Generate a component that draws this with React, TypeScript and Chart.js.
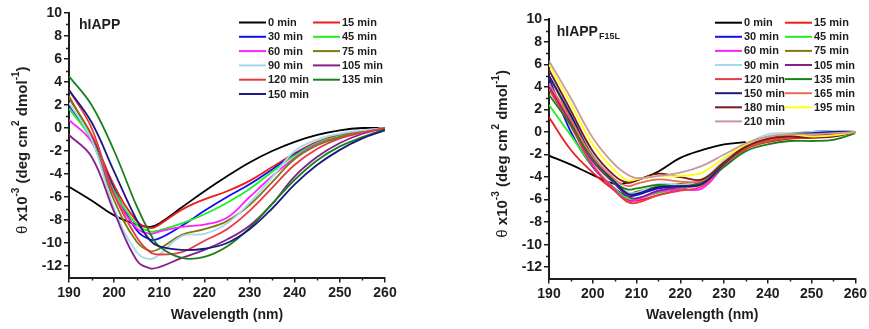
import React, { useEffect, useRef } from "react";
import { Chart, registerables } from "chart.js";

Chart.register(...registerables);

// ---------- data ----------
const WAVELENGTHS = [190, 195, 200, 205, 208, 210, 215, 220, 225, 230, 235, 240, 245, 250, 255, 260];
const X_TICKS = [190, 200, 210, 220, 230, 240, 250, 260];
const Y_TICKS = [-12, -10, -8, -6, -4, -2, 0, 2, 4, 6, 8, 10];

// hIAPP panel
const A_LABELS = ["0 min", "15 min", "30 min", "45 min", "60 min", "75 min", "90 min", "105 min", "120 min", "135 min", "150 min"];
const A_0 = [-5.1, -6.3, -7.6, -8.4, -8.6, -8.3, -6.9, -5.5, -4.2, -3.0, -2.0, -1.2, -0.6, -0.2, 0, 0];
const A_15 = [2.6, -0.6, -5.0, -8.1, -8.7, -8.4, -7.1, -6.2, -5.5, -4.6, -3.4, -2.2, -1.2, -0.6, -0.3, 0];
const A_30 = [2.0, -0.9, -5.3, -8.9, -9.7, -9.6, -8.5, -7.2, -6.0, -4.9, -3.6, -2.3, -1.3, -0.7, -0.3, 0];
const A_45 = [1.7, -1.0, -5.5, -8.4, -9.0, -8.9, -8.3, -7.5, -6.5, -5.3, -3.8, -2.4, -1.3, -0.7, -0.3, 0];
const A_60 = [0.7, -1.2, -5.8, -8.7, -9.2, -9.0, -8.6, -8.4, -7.8, -6.0, -4.2, -2.6, -1.4, -0.8, -0.3, -0.1];
const A_75 = [2.8, -0.9, -6.3, -9.9, -10.7, -10.5, -9.3, -8.8, -8.1, -6.7, -4.7, -2.7, -1.5, -0.8, -0.3, 0];
const A_90 = [2.2, -1.0, -7.0, -10.8, -11.4, -11.0, -9.4, -9.2, -8.3, -6.5, -4.3, -2.0, -1.0, -0.5, -0.2, 0];
const A_105 = [-0.6, -2.5, -7.3, -11.5, -12.2, -12.1, -11.3, -10.6, -9.7, -8.5, -6.6, -4.2, -2.5, -1.3, -0.5, 0];
const A_120 = [3.3, 0.0, -5.8, -9.5, -10.8, -11.0, -10.8, -9.8, -8.8, -7.2, -5.2, -3.2, -1.8, -0.9, -0.4, 0];
const A_135 = [4.5, 2.0, -2.0, -6.8, -9.2, -10.3, -11.3, -11.2, -10.3, -8.7, -6.6, -4.5, -2.8, -1.6, -0.8, -0.1];
const A_150 = [3.3, 0.5, -3.8, -8.0, -9.8, -10.3, -10.6, -10.5, -10.0, -8.8, -7.0, -4.9, -3.2, -1.9, -0.9, -0.2];
const A_VALUES = [A_0, A_15, A_30, A_45, A_60, A_75, A_90, A_105, A_120, A_135, A_150];

// hIAPP F15L panel
const B_LABELS = ["0 min", "15 min", "30 min", "45 min", "60 min", "75 min", "90 min", "105 min", "120 min", "135 min", "150 min", "165 min", "180 min", "195 min", "210 min"];
const B_0 = [-2.1, -2.9, -3.8, -4.6, -4.5, -4.3, -3.5, -2.3, -1.6, -1.1, -0.9, null, null, null, null, null];
const B_15 = [1.3, -1.6, -3.6, -5.2, -6.0, -6.1, -5.6, -5.1, -4.4, -2.8, -1.5, -0.9, -0.6, -0.5, -0.3, 0];
const B_30 = [4.8, 0.0, -3.1, -5.0, -5.7, -5.6, -5.0, -4.8, -4.3, -2.7, -1.4, -0.6, -0.2, 0, 0.1, 0];
const B_45 = [2.4, -0.3, -3.0, -5.0, -5.9, -5.9, -5.4, -5.0, -4.5, -2.8, -1.4, -0.8, -0.5, -0.4, -0.2, 0];
const B_60 = [4.2, 0.8, -2.9, -5.1, -6.2, -6.0, -5.3, -5.1, -5.0, -3.0, -1.3, -0.6, -0.3, -0.3, -0.2, 0];
const B_75 = [5.0, 1.3, -2.2, -4.5, -5.4, -5.3, -4.8, -4.6, -4.3, -2.6, -1.3, -0.6, -0.4, -0.4, -0.3, 0];
const B_90 = [5.5, 1.8, -1.9, -4.2, -5.3, -5.4, -4.6, -4.7, -4.2, -2.5, -1.1, -0.2, -0.1, 0, 0.1, 0];
const B_105 = [4.0, 0.8, -2.6, -4.6, -5.7, -5.9, -5.2, -4.9, -4.6, -2.8, -1.3, -0.6, -0.3, -0.2, -0.2, 0];
const B_120 = [3.8, 0.5, -3.0, -5.2, -6.2, -6.3, -5.6, -5.2, -4.8, -2.9, -1.5, -0.8, -0.5, -0.5, -0.3, 0];
const B_135 = [3.3, 0.6, -2.4, -4.5, -5.1, -5.0, -4.7, -4.8, -4.5, -3.1, -1.7, -1.1, -0.8, -0.8, -0.7, -0.1];
const B_150 = [5.0, 1.5, -2.2, -4.4, -5.5, -5.5, -4.9, -4.8, -4.6, -2.8, -1.3, -0.6, -0.2, -0.1, 0, 0];
const B_165 = [4.3, 1.1, -2.2, -4.2, -4.8, -4.6, -4.2, -4.4, -4.3, -2.7, -1.3, -0.6, -0.4, -0.4, -0.3, 0];
const B_180 = [5.5, 1.9, -1.7, -3.9, -4.5, -4.3, -3.7, -4.0, -4.2, -2.7, -1.3, -0.6, -0.4, -0.5, -0.4, 0];
const B_195 = [6.0, 2.5, -1.1, -3.4, -4.3, -4.2, -3.9, -3.9, -3.6, -2.3, -1.1, -0.4, -0.2, -0.4, -0.3, 0];
const B_210 = [6.3, 3.0, -0.5, -2.9, -3.8, -4.1, -3.9, -3.6, -3.0, -2.0, -1.0, -0.4, -0.2, -0.2, -0.1, 0];
const B_VALUES = [B_0, B_15, B_30, B_45, B_60, B_75, B_90, B_105, B_120, B_135, B_150, B_165, B_180, B_195, B_210];

const COLORS = [
  "#000000", "#ee1c1c", "#1010f0", "#22ee22", "#ff22ff", "#7d7a10", "#a6d8ee", "#84208a",
  "#e83a44", "#1a801a", "#1a1a80", "#ee6a50", "#7a1a1a", "#ffff10", "#c8989a",
];

const FONT = "'Liberation Sans', Arial, Helvetica, sans-serif";
const INK = "#1e1e1e";

type Geom = {
  width: number;
  padRight: number;
  padTop: number;
  yWidth: number;
  xHeight: number;
  legendX1: number;
  legendX2: number;
  legendY: number;
  legendStep: number;
  labelX: number;
  labelY: number;
  yTitleX: number;
  yTitleShift: number;
};

function drawRich(ctx: CanvasRenderingContext2D, segs: { t: string; sup?: boolean; bold?: boolean }[], size: number, supSize: number) {
  const fontOf = (s: { sup?: boolean; bold?: boolean }) =>
    `${s.bold === false ? "" : "bold "}${s.sup ? supSize : size}px ${FONT}`;
  let total = 0;
  for (const s of segs) {
    ctx.font = fontOf(s);
    total += ctx.measureText(s.t).width;
  }
  let x = -total / 2;
  ctx.textAlign = "left";
  ctx.textBaseline = "middle";
  for (const s of segs) {
    ctx.font = fontOf(s);
    ctx.fillText(s.t, x, s.sup ? -size * 0.42 : 0);
    x += ctx.measureText(s.t).width;
  }
}

function Panel({ labels, values, geom, name, sub }: { labels: string[]; values: (number | null)[][]; geom: Geom; name: string; sub?: string }) {
  const ref = useRef<HTMLCanvasElement>(null);
  useEffect(() => {
    const decor = {
      id: "decor",
      afterDraw(chart: any) {
        const { ctx, chartArea } = chart;
        const xs = chart.scales.x;
        const ys = chart.scales.y;
        ctx.save();
        // minor ticks
        ctx.strokeStyle = INK;
        ctx.lineWidth = 1.5;
        for (let v = 195; v < 260; v += 10) {
          const px = Math.round(xs.getPixelForValue(v)) + 0.5;
          ctx.beginPath();
          ctx.moveTo(px, chartArea.bottom);
          ctx.lineTo(px, chartArea.bottom + 3);
          ctx.stroke();
        }
        for (let v = -11; v < 10; v += 2) {
          const py = Math.round(ys.getPixelForValue(v)) + 0.5;
          ctx.beginPath();
          ctx.moveTo(chartArea.left, py);
          ctx.lineTo(chartArea.left - 3, py);
          ctx.stroke();
        }
        // legend
        ctx.font = `bold 11px ${FONT}`;
        ctx.textBaseline = "middle";
        ctx.textAlign = "left";
        labels.forEach((lab, i) => {
          const col = i % 2;
          const row = Math.floor(i / 2);
          const x0 = col === 0 ? geom.legendX1 : geom.legendX2;
          const y0 = geom.legendY + row * geom.legendStep;
          ctx.strokeStyle = COLORS[i];
          ctx.lineWidth = 2;
          ctx.beginPath();
          ctx.moveTo(x0, y0);
          ctx.lineTo(x0 + 27, y0);
          ctx.stroke();
          ctx.fillStyle = INK;
          ctx.fillText(lab, x0 + 29, y0 + 0.5);
        });
        // panel label
        ctx.fillStyle = INK;
        ctx.font = `bold 14px ${FONT}`;
        ctx.fillText(name, geom.labelX, geom.labelY);
        if (sub) {
          const w = ctx.measureText(name).width;
          ctx.font = `bold 9px ${FONT}`;
          ctx.fillText(sub, geom.labelX + w + 1, geom.labelY + 5);
        }
        // y title
        ctx.translate(geom.yTitleX, (chartArea.top + chartArea.bottom) / 2 + geom.yTitleShift);
        ctx.rotate(-Math.PI / 2);
        drawRich(
          ctx,
          [
            { t: "θ", bold: false },
            { t: " x10" },
            { t: "-3", sup: true },
            { t: " (deg cm" },
            { t: "2", sup: true },
            { t: " dmol" },
            { t: "-1", sup: true },
            { t: ")" },
          ],
          15,
          10
        );
        ctx.restore();
      },
    };

    const chart = new Chart(ref.current as HTMLCanvasElement, {
      type: "line",
      data: {
        datasets: labels.map((lab, i) => ({
          label: lab,
          data: WAVELENGTHS.map((w, j) => ({ x: w, y: values[i][j] as any })),
          borderColor: COLORS[i],
          backgroundColor: COLORS[i],
          borderWidth: 1.8,
          pointRadius: 0,
          fill: false,
          tension: 0.4,
          spanGaps: false,
          order: -i,
        })),
      },
      options: {
        animation: false,
        responsive: false,
        events: [],
        layout: { padding: { left: 0, right: geom.padRight, top: geom.padTop, bottom: 0 } },
        plugins: { legend: { display: false }, tooltip: { enabled: false } },
        scales: {
          x: {
            type: "linear",
            min: 190,
            max: 260,
            afterBuildTicks: (s: any) => {
              s.ticks = X_TICKS.map((v) => ({ value: v }));
            },
            afterFit: (s: any) => {
              s.height = geom.xHeight;
            },
            grid: { drawOnChartArea: false, tickLength: 5, color: INK, lineWidth: 1.5 },
            border: { color: INK, width: 2 },
            ticks: { font: { family: FONT, size: 14, weight: "bold" }, color: INK, padding: 2, maxRotation: 0, autoSkip: false },
            title: {
              display: true,
              text: "Wavelength (nm)",
              font: { family: FONT, size: 14, weight: "bold" },
              color: INK,
              padding: { top: 0, bottom: 5.6 },
            },
          },
          y: {
            type: "linear",
            min: -13,
            max: 10,
            afterBuildTicks: (s: any) => {
              s.ticks = Y_TICKS.map((v) => ({ value: v }));
            },
            afterFit: (s: any) => {
              s.width = geom.yWidth;
            },
            grid: { drawOnChartArea: false, tickLength: 5, color: INK, lineWidth: 1.5 },
            border: { color: INK, width: 2 },
            ticks: { font: { family: FONT, size: 14, weight: "bold" }, color: INK, padding: 2, autoSkip: false },
          },
        },
      },
      plugins: [decor],
    } as any);
    return () => chart.destroy();
  }, []);
  return <canvas ref={ref} width={geom.width} height={329} style={{ display: "block", width: geom.width, height: 329 }} />;
}

const GEOM_A: Geom = {
  width: 440,
  padRight: 55,
  padTop: 13,
  yWidth: 69,
  xHeight: 51.5,
  legendX1: 239,
  legendX2: 313,
  legendY: 22.5,
  legendStep: 14.3,
  labelX: 79,
  labelY: 25,
  yTitleX: 23,
  yTitleShift: 5,
};

const GEOM_B: Geom = {
  width: 429,
  padRight: 11,
  padTop: 19.3,
  yWidth: 109,
  xHeight: 50.5,
  legendX1: 275,
  legendX2: 345,
  legendY: 22.7,
  legendStep: 14.1,
  labelX: 116.7,
  labelY: 31.7,
  yTitleX: 63,
  yTitleShift: 5,
};

export default function App() {
  return (
    <div style={{ position: "absolute", left: 0, top: 0, width: 869, height: 329, display: "flex", background: "#fff" }}>
      <Panel labels={A_LABELS} values={A_VALUES} geom={GEOM_A} name="hIAPP" />
      <Panel labels={B_LABELS} values={B_VALUES} geom={GEOM_B} name="hIAPP" sub="F15L" />
    </div>
  );
}
